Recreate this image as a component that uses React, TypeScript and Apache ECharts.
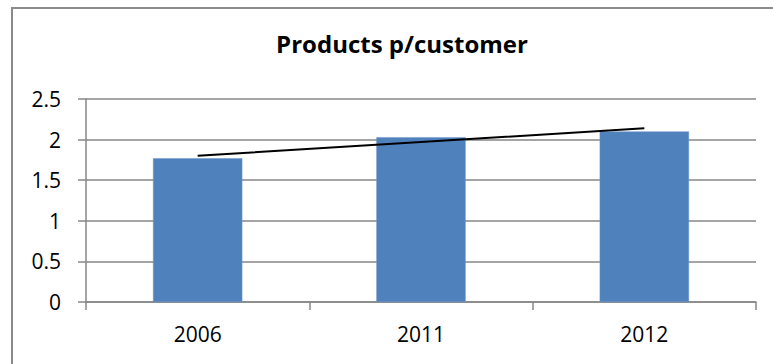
import React, { useEffect, useRef } from "react";
import * as echarts from "echarts";

const years = ["2006", "2011", "2012"];
const productsPerCustomer = [1.77, 2.03, 2.1];
const trendValues = [1.8, 1.97, 2.14];
const chartTitle = "Products p/customer";

export default function App() {
  const ref = useRef<HTMLDivElement>(null);
  useEffect(() => {
    document.body.style.margin = "0";
    if (!ref.current) return;
    const chart = echarts.init(ref.current, null, { renderer: "svg" });
    const grey = "#878787";
    chart.setOption({
      animation: false,
      backgroundColor: "#ffffff",
      textStyle: { fontFamily: "Open Sans" },
      title: {
        text: chartTitle,
        left: 397,
        top: 26,
        textAlign: "center",
        textStyle: { fontFamily: "Open Sans", fontWeight: "bold", fontSize: 24, color: "#000" },
      },
      graphic: [
        {
          type: "rect",
          shape: { x: 12, y: 8, width: 800, height: 400 },
          style: { fill: "none", stroke: "#8a8a8a", lineWidth: 2 },
          silent: true,
          z: 0,
        },
      ],
      grid: { left: 86, right: 17, top: 99, bottom: 62, containLabel: false },
      xAxis: {
        type: "category",
        data: years,
        axisLine: { show: true, lineStyle: { color: grey, width: 1.5 } },
        axisTick: { show: true, length: 8, lineStyle: { color: grey, width: 1.5 } },
        axisLabel: { color: "#000", fontSize: 21, margin: 21, fontFamily: "Open Sans" },
      },
      yAxis: {
        type: "value",
        min: 0,
        max: 2.5,
        interval: 0.5,
        axisLine: { show: true, lineStyle: { color: grey, width: 1.5 } },
        axisTick: { show: true, length: 8, lineStyle: { color: grey, width: 1.5 } },
        splitLine: { show: true, lineStyle: { color: grey, width: 1.5 } },
        axisLabel: { color: "#000", fontSize: 21, margin: 25, fontFamily: "Open Sans" },
      },
      series: [
        {
          type: "bar",
          data: productsPerCustomer,
          barWidth: "40%",
          itemStyle: { color: "#4F81BD", borderColor: "#6f97c9", borderWidth: 0.5 },
          z: 2,
        },
        {
          type: "line",
          data: trendValues,
          showSymbol: false,
          symbol: "none",
          lineStyle: { color: "#000", width: 2 },
          z: 3,
        },
      ],
    });
    return () => chart.dispose();
  }, []);
  return <div ref={ref} style={{ width: 773, height: 364 }} />;
}
